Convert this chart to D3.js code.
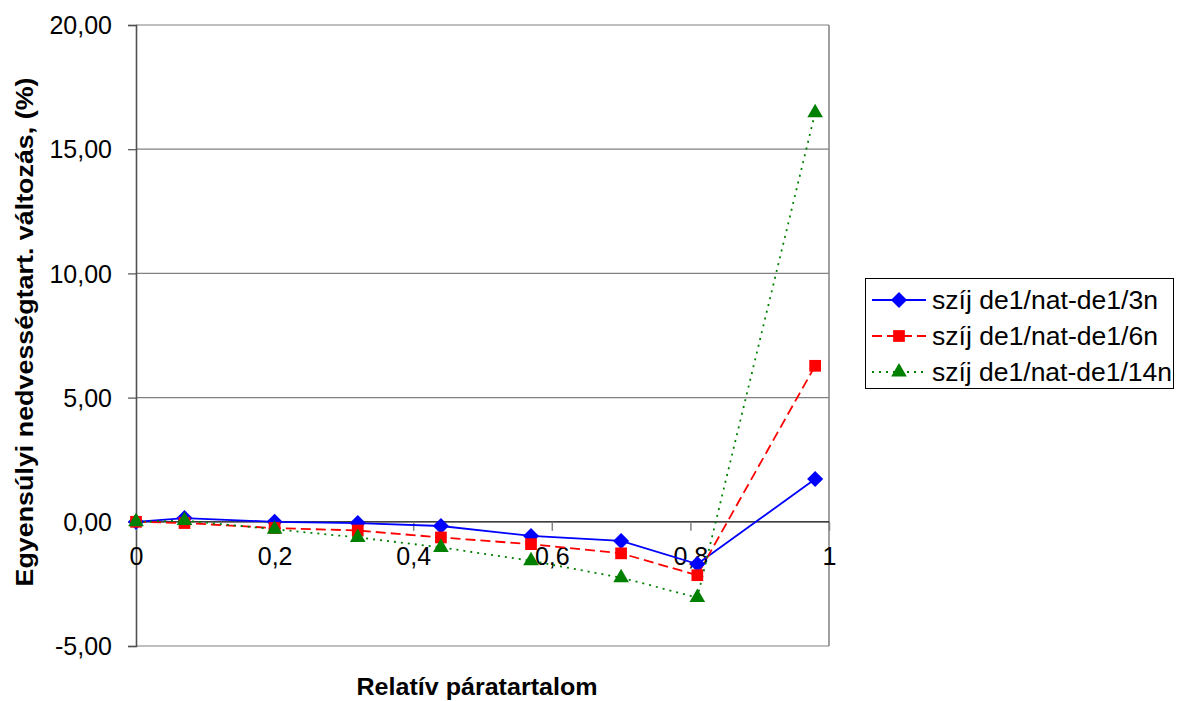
<!DOCTYPE html>
<html><head><meta charset="utf-8">
<script src="https://cdn.jsdelivr.net/npm/d3@7"></script>
<style>body{margin:0;background:#fff;} text{font-family:"Liberation Sans",Arial,sans-serif;}</style>
</head><body>
<svg id="c" width="1177" height="701"></svg>
<script>
const xValues = [0, 0.07, 0.2, 0.32, 0.44, 0.57, 0.70, 0.81, 0.98];
const series3n = [0, 0.15, 0.0, -0.05, -0.17, -0.57, -0.77, -1.70, 1.72];
const series6n = [0, -0.05, -0.25, -0.35, -0.63, -0.90, -1.27, -2.15, 6.28];
const series14n = [0, 0.05, -0.30, -0.63, -1.03, -1.57, -2.25, -3.05, 16.47];
const seriesNames = ["szíj de1/nat-de1/3n", "szíj de1/nat-de1/6n", "szíj de1/nat-de1/14n"];
const yTicks = [-5, 0, 5, 10, 15, 20];
const xTicks = [0, 0.2, 0.4, 0.6, 0.8, 1];
const xTitle = "Relatív páratartalom";
const yTitle = "Egyensúlyi nedvességtart. változás,  (%)";

const svg = d3.select("#c");
const L = 136, R = 829, T = 25, B = 646;
const x = d3.scaleLinear().domain([0, 1]).range([L, R]);
const y = d3.scaleLinear().domain([-5, 20]).range([B, T]);
const fmt = v => d3.format(".2f")(v).replace(".", ",").replace("−", "-");
const fmtx = v => String(v).replace(".", ",");
const FF = "'Liberation Sans', Arial, sans-serif";

// gridlines
svg.append("g").selectAll("line").data(yTicks.filter(v => v !== 0)).join("line")
  .attr("x1", L).attr("x2", R).attr("y1", d => y(d)).attr("y2", d => y(d))
  .attr("stroke", "#808080").attr("stroke-width", 1.2);
// right border
svg.append("line").attr("x1", R).attr("x2", R).attr("y1", T).attr("y2", B)
  .attr("stroke", "#808080").attr("stroke-width", 1.5);

// y axis
const yAxis = d3.axisLeft(y).tickValues(yTicks).tickFormat(fmt).tickSize(8).tickPadding(16);
const gy = svg.append("g").attr("transform", `translate(${L},0)`).call(yAxis);
gy.select(".domain").attr("stroke", "#505050").attr("stroke-width", 1.6);
gy.selectAll(".tick line").attr("stroke", "#505050").attr("stroke-width", 1.2);
gy.selectAll(".tick text").attr("font-size", 25).attr("fill", "#000").attr("dy", "0.35em")
  .style("font-family", FF);

// x axis at zero
const xAxis = d3.axisBottom(x).tickValues(xTicks).tickFormat(fmtx).tickSize(9).tickPadding(22);
const gx = svg.append("g").attr("transform", `translate(0,${y(0)})`).call(xAxis);
gx.select(".domain").attr("stroke", "#000").attr("stroke-width", 1.3).attr("d", `M${L},0H${R}`);
gx.selectAll(".tick line").attr("stroke", "#808080").attr("stroke-width", 1.5);
gx.selectAll(".tick text").attr("font-size", 25).attr("fill", "#000").attr("dy", "0.5em")
  .style("font-family", FF);

const seriesData = [series3n, series6n, series14n];
const colors = ["#0000ff", "#ff0000", "#008000"];
const dashes = [null, "10,5", "2,5"];
const symbols = [d3.symbolDiamond2, d3.symbolSquare2, d3.symbolTriangle2];
const symSizes = [165, 175, 175];

const line = d3.line().x((d, i) => x(xValues[i])).y(d => y(d));
seriesData.forEach((s, k) => {
  svg.append("path").datum(s).attr("d", line).attr("fill", "none")
    .attr("stroke", colors[k]).attr("stroke-width", 1.8)
    .attr("stroke-dasharray", dashes[k]);
});
seriesData.forEach((s, k) => {
  svg.append("g").selectAll("path").data(s).join("path")
    .attr("transform", (d, i) => `translate(${x(xValues[i])},${y(d)})`)
    .attr("d", d3.symbol().type(symbols[k]).size(symSizes[k]))
    .attr("fill", colors[k]);
});

// axis titles
svg.append("text").attr("x", 477).attr("y", 695).attr("text-anchor", "middle")
  .attr("font-size", 23).attr("font-weight", "bold")
  .attr("textLength", 241).attr("lengthAdjust", "spacingAndGlyphs").text(xTitle);
svg.append("text").attr("transform", `translate(33,332) rotate(-90)`)
  .attr("text-anchor", "middle").attr("font-size", 24).attr("font-weight", "bold")
  .attr("textLength", 509).attr("lengthAdjust", "spacingAndGlyphs").text(yTitle);

// legend
const lg = svg.append("g");
lg.append("rect").attr("x", 865.5).attr("y", 278.5).attr("width", 308).attr("height", 110)
  .attr("fill", "#fff").attr("stroke", "#000").attr("stroke-width", 1);
const legendLens = [226, 226, 240];
seriesNames.forEach((n, k) => {
  const yy = 300 + k * 36;
  lg.append("line").attr("x1", 872).attr("x2", 926).attr("y1", yy).attr("y2", yy)
    .attr("stroke", colors[k]).attr("stroke-width", 1.8).attr("stroke-dasharray", dashes[k]);
  lg.append("path").attr("transform", `translate(899,${yy})`)
    .attr("d", d3.symbol().type(symbols[k]).size(symSizes[k])).attr("fill", colors[k]);
  lg.append("text").attr("x", 932).attr("y", yy + 9).attr("font-size", 25)
    .attr("textLength", legendLens[k]).attr("lengthAdjust", "spacingAndGlyphs").text(n);
});
</script>
</body></html>
